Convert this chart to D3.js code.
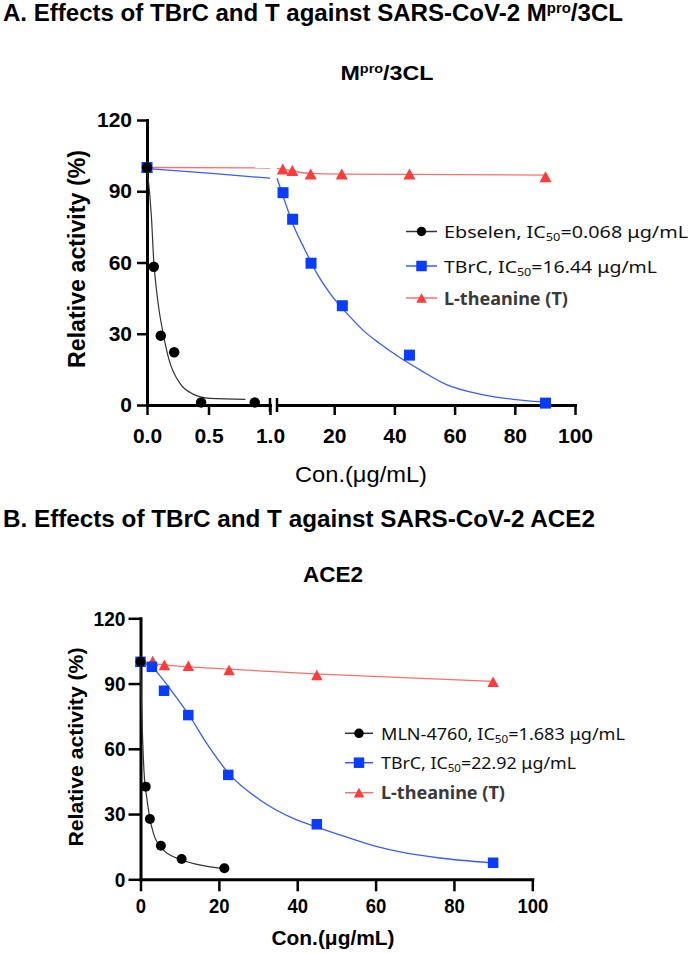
<!DOCTYPE html>
<html><head><meta charset="utf-8">
<script src="https://cdn.jsdelivr.net/npm/d3@7"></script>
<style>body{margin:0;background:#fff}</style>
</head><body>
<svg id="c" width="688" height="953"></svg>
<script>
// ---------------- DATA ----------------
const yTicks = [0, 30, 60, 90, 120];
const xTicksA1 = [0, 0.5, 1.0];
const xTicksA2 = [20, 40, 60, 80, 100];
const xTicksB = [0, 20, 40, 60, 80, 100];

// Panel A (Mpro/3CL)
const ebselenConcA = [0, 0.055, 0.112, 0.221, 0.44, 0.876];
const ebselenActA  = [100, 58.2, 29.2, 22.2, 1.1, 1.1];
const tbrcConcA = [0, 3.0, 6.2, 12.3, 22.7, 45, 90.2];
const tbrcActA  = [100, 89.4, 78.2, 59.7, 41.8, 21.0, 0.8];
const theanConcA = [0, 2.9, 6.1, 12.2, 22.5, 45, 90.2];
const theanActA  = [100, 99.4, 98.7, 97.3, 97.3, 97.3, 96.1];
// fitted curves [conc, activity]
const ebselenFitA = [[0,100],[0.036,79.3],[0.055,60.5],[0.077,48.4],[0.098,40],[0.131,30.2],[0.18,18.9],[0.268,9.1],[0.363,4.9],[0.513,2.8],[0.8,2.4]];
const tbrcFitA1 = [[0,99.6],[0.5,97.6],[1,95.5]];
const tbrcFitA2 = [[1,95.5],[2,91.7],[3,88],[6.4,75.8],[10.3,65.3],[14.2,55.5],[18.6,47],[25.2,37.2],[30,31],[35,26],[41.8,20],[48.5,14.8],[57.3,8.6],[68.4,4.6],[79.4,2.4],[89.4,1.3]];
const theanFitA1 = [[0,100],[1,99.8]];
const theanFitA2 = [[1,99.6],[3,99.2],[6,98.6],[12,97.5],[22,97.2],[45,97.1],[90,96.8]];

// Panel B (ACE2)
const mlnConcB = [0, 1.33, 2.4, 5.2, 10.5, 21.4];
const mlnActB  = [100, 42.6, 27.7, 15.4, 9.3, 5.1];
const tbrcConcB = [0, 2.9, 6.0, 12.2, 22.4, 45, 90];
const tbrcActB  = [100, 97.7, 86.7, 75.5, 48, 25.3, 7.6];
const theanConcB = [0, 3.1, 6.1, 12.2, 22.6, 45, 90];
const theanActB  = [100, 100.4, 98.6, 98.2, 96.2, 93.9, 90.8];
const mlnFitB = [[0,100],[0.2,85],[0.55,64],[0.9,49.5],[1.6,37.5],[2.25,29.5],[3.3,21.1],[5.8,13.5],[10.5,8.9],[16,6.3],[21.4,4.9]];
const tbrcFitB = [[0,100],[2.9,97.6],[6.1,91],[9,84],[12.2,76],[16.9,62.5],[22.6,48.5],[30.5,36.5],[39,28],[45,24],[50.9,20.4],[59.4,15.5],[67.9,12],[76.4,9.8],[89.2,7.6]];
const theanFitB = [[0,100],[5,98.8],[22.5,96.6],[45.8,94.3],[90,91]];

const legendA = ["Ebselen, IC|50|=0.068 μg/mL", "TBrC, IC|50|=16.44 μg/mL", "L-theanine (T)"];
const legendB = ["MLN-4760, IC|50|=1.683 μg/mL", "TBrC, IC|50|=22.92 μg/mL", "L-theanine (T)"];

// ---------------- STYLE ----------------
const BLACK = "#000", BLUE = "#0a3cff", RED = "#ff3b3b";
const BLUE_LINE = "#3a5cff", RED_LINE = "#ff6e6e", BLACK_LINE = "#333";
const AX_FONT = "'Liberation Sans', Arial, sans-serif";
const LEG_FONT = "'Noto Sans', 'Open Sans', sans-serif";

const svg = d3.select("#c");
svg.append("rect").attr("width", 688).attr("height", 953).attr("fill", "#fff");

function fitWidth(sel, w) {
  sel.attr("textLength", w).attr("lengthAdjust", "spacingAndGlyphs");
}
function squeeze(sel, k) {
  sel.each(function () {
    const w = this.getComputedTextLength();
    d3.select(this).attr("textLength", w * k).attr("lengthAdjust", "spacingAndGlyphs");
  });
}

// ---------------- TITLES ----------------
function supTitle(x, y, size, before, sup, after, anchor, width) {
  const t = svg.append("text").attr("x", x).attr("y", y)
    .attr("font-family", AX_FONT).attr("font-weight", "bold").attr("font-size", size)
    .attr("text-anchor", anchor).attr("fill", "#000");
  t.append("tspan").text(before);
  if (sup) {
    t.append("tspan").attr("font-size", size * 0.62).attr("dy", -size * 0.36).text(sup);
    t.append("tspan").attr("dy", size * 0.36).text(after);
  }
  if (width) fitWidth(t, width);
  return t;
}
supTitle(3, 21, 23, "A. Effects of TBrC and T against SARS-CoV-2 M", "pro", "/3CL", "start", 620);
supTitle(387, 80, 20, "M", "pro", "/3CL", "middle", 93);
supTitle(3, 527, 23, "B. Effects of TBrC and T against SARS-CoV-2 ACE2", null, null, "start", 592);
supTitle(333, 582, 22, "ACE2", null, null, "middle", 60);

// ---------------- SCALES ----------------
const yA = d3.scaleLinear([0, 120], [405, 120]);
const xA1 = d3.scaleLinear([0, 1], [147, 270]);
const xA2 = d3.scaleLinear([1, 100], [277, 575]);
const xA = v => (v <= 1 ? xA1(v) : xA2(v));
const yB = d3.scaleLinear([0, 120], [879.3, 618.3]);
const xB = d3.scaleLinear([0, 100], [140.5, 532.3]);

function styleAxis(g, fs) {
  g.attr("font-family", AX_FONT).attr("font-weight", "bold").attr("font-size", fs);
  g.select(".domain").attr("stroke", "#000").attr("stroke-width", 3).attr("stroke-linecap", "square");
  g.selectAll(".tick line").attr("stroke", "#000").attr("stroke-width", 2.5);
  g.selectAll(".tick text").attr("fill", "#000");
}

// Panel A axes
const gyA = svg.append("g").attr("transform", `translate(${xA1(0)},0)`)
  .call(d3.axisLeft(yA).tickValues(yTicks).tickSize(10).tickPadding(5).tickSizeOuter(0));
styleAxis(gyA, 21);
const gxA1 = svg.append("g").attr("transform", `translate(0,${yA(0)})`)
  .call(d3.axisBottom(xA1).tickValues(xTicksA1).tickFormat(d3.format(".1f")).tickSize(10).tickPadding(13).tickSizeOuter(0));
styleAxis(gxA1, 21);
const gxA2 = svg.append("g").attr("transform", `translate(0,${yA(0)})`)
  .call(d3.axisBottom(xA2).tickValues(xTicksA2).tickSize(10).tickPadding(13).tickSizeOuter(0));
styleAxis(gxA2, 21);
// axis break marks
[xA1(1), xA2(1)].forEach(x => {
  svg.append("line").attr("x1", x).attr("x2", x).attr("y1", yA(0) - 7).attr("y2", yA(0) + 7)
    .attr("stroke", "#000").attr("stroke-width", 2.5);
});

// Panel B axes
const gyB = svg.append("g").attr("transform", `translate(${xB(0)},0)`)
  .call(d3.axisLeft(yB).tickValues(yTicks).tickSize(12).tickPadding(3).tickSizeOuter(0));
styleAxis(gyB, 21);
squeeze(gyB.selectAll(".tick text"), 0.91);
const gxB = svg.append("g").attr("transform", `translate(0,${yB(0)})`)
  .call(d3.axisBottom(xB).tickValues(xTicksB).tickSize(12).tickPadding(7).tickSizeOuter(0));
styleAxis(gxB, 21);
squeeze(gxB.selectAll(".tick text"), 0.88);

// Axis titles
const ytA = svg.append("text").attr("transform", "translate(85,259) rotate(-90)")
  .attr("text-anchor", "middle").attr("font-family", AX_FONT).attr("font-weight", "bold")
  .attr("font-size", 23).text("Relative activity (%)");
fitWidth(ytA, 218);
const ytB = svg.append("text").attr("transform", "translate(83,747) rotate(-90)")
  .attr("text-anchor", "middle").attr("font-family", AX_FONT).attr("font-weight", "bold")
  .attr("font-size", 21).text("Relative activity (%)");
fitWidth(ytB, 199);
const xtA = svg.append("text").attr("x", 361).attr("y", 482).attr("text-anchor", "middle")
  .attr("font-family", AX_FONT).attr("font-size", 22).text("Con.(μg/mL)");
fitWidth(xtA, 132);
const xtB = svg.append("text").attr("x", 333).attr("y", 945).attr("text-anchor", "middle")
  .attr("font-family", AX_FONT).attr("font-weight", "bold").attr("font-size", 20).text("Con.(μg/mL)");
fitWidth(xtB, 123);

// ---------------- MARKS ----------------
function curve(xs, ys, pts, color, w) {
  svg.append("path").datum(pts)
    .attr("d", d3.line().x(d => xs(d[0])).y(d => ys(d[1])).curve(d3.curveMonotoneX))
    .attr("fill", "none").attr("stroke", color).attr("stroke-width", w);
}
function marker(g, shape, x, y, color, s) {
  if (shape === "circle") {
    g.append("circle").attr("cx", x).attr("cy", y).attr("r", s / 2).attr("fill", color);
  } else if (shape === "square") {
    g.append("rect").attr("x", x - s / 2).attr("y", y - s / 2).attr("width", s).attr("height", s).attr("fill", color);
  } else {
    const h = s * 0.92;
    g.append("path").attr("d", `M${x},${y - h / 2}L${x + s / 2},${y + h / 2}L${x - s / 2},${y + h / 2}Z`).attr("fill", color);
  }
}
function points(xs, ys, conc, act, shape, color, s) {
  const g = svg.append("g");
  conc.forEach((c, i) => marker(g, shape, xs(c), ys(act[i]), color, s));
}

// Panel A
curve(xA1, yA, theanFitA1, RED_LINE, 1.3);
curve(xA2, yA, theanFitA2, RED_LINE, 1.3);
curve(xA1, yA, tbrcFitA1, BLUE_LINE, 1.3);
curve(xA2, yA, tbrcFitA2, BLUE_LINE, 1.3);
curve(xA1, yA, ebselenFitA, BLACK_LINE, 1.2);
points(xA, yA, theanConcA, theanActA, "triangle", RED, 12);
points(xA, yA, tbrcConcA, tbrcActA, "square", BLUE, 11);
points(xA, yA, ebselenConcA, ebselenActA, "circle", BLACK, 10.5);

// Panel B
curve(xB, yB, theanFitB, RED_LINE, 1.3);
curve(xB, yB, tbrcFitB, BLUE_LINE, 1.3);
curve(xB, yB, mlnFitB, BLACK_LINE, 1.2);
points(xB, yB, theanConcB, theanActB, "triangle", RED, 11.5);
points(xB, yB, tbrcConcB, tbrcActB, "square", BLUE, 10.5);
points(xB, yB, mlnConcB, mlnActB, "circle", BLACK, 10);

// ---------------- LEGENDS ----------------
function legend(items, x0, x1, tx, rows, widths, shapes, colors, lineColors) {
  items.forEach((label, i) => {
    const y = rows[i];
    svg.append("line").attr("x1", x0).attr("x2", x1).attr("y1", y).attr("y2", y)
      .attr("stroke", lineColors[i]).attr("stroke-width", 1.5);
    const g = svg.append("g");
    marker(g, shapes[i], (x0 + x1) / 2, y, colors[i], shapes[i] === "circle" ? 9.5 : 10.5);
    const bold = i === 2;
    const t = svg.append("text").attr("x", tx).attr("y", y + 6.5)
      .attr("font-family", LEG_FONT).attr("font-size", 17)
      .attr("font-weight", bold ? "bold" : "normal")
      .attr("fill", bold ? "#3a3a3a" : "#111");
    const parts = label.split("|");
    t.append("tspan").text(parts[0]);
    if (parts.length > 1) {
      t.append("tspan").attr("font-size", 11).attr("dy", 3).text(parts[1]);
      t.append("tspan").attr("dy", -3).text(parts[2]);
    }
    fitWidth(t, widths[i]);
  });
}
legend(legendA, 406, 437, 444, [231.5, 266, 298], [244, 213, 124],
  ["circle", "square", "triangle"], [BLACK, BLUE, RED], [BLACK_LINE, BLUE_LINE, RED_LINE]);
legend(legendB, 345, 373, 381, [733.3, 762.7, 792.7], [244, 195, 124],
  ["circle", "square", "triangle"], [BLACK, BLUE, RED], [BLACK_LINE, BLUE_LINE, RED_LINE]);
</script>
</body></html>
